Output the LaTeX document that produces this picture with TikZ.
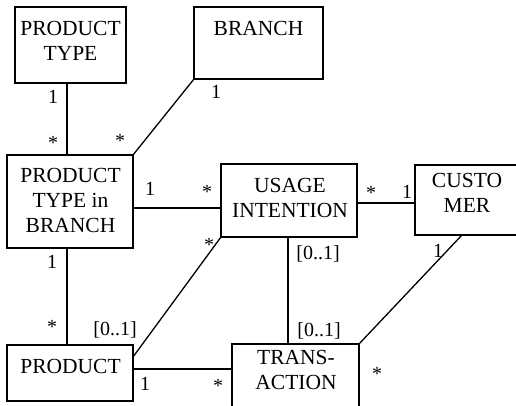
\documentclass[tikz,border=0pt]{standalone}
\usepackage{fontspec}
\setmainfont{Liberation Serif}
\begin{document}
\begin{tikzpicture}[x=1pt,y=-1pt,
  ent/.style={draw,line width=1.5pt,inner sep=0pt,outer sep=0pt,rectangle},
  etxt/.style={inner sep=0pt,align=center,font={\fontsize{21.5}{25}\selectfont}},
  mult/.style={inner sep=0pt,anchor=base,font={\fontsize{20}{24}\selectfont}},
  conn/.style={line width=1.3pt}]
\useasboundingbox (0,0) rectangle (516,406);
% entity boxes
\node[ent,minimum width=111pt,minimum height=76pt] (pt)  at (70.5,45) {};
\node[ent,minimum width=129pt,minimum height=72pt] (br)  at (258.5,43) {};
\node[ent,minimum width=126pt,minimum height=93pt] (ptb) at (70,201.5) {};
\node[ent,minimum width=136pt,minimum height=73pt] (ui)  at (289,200.5) {};
\node[ent,minimum width=105pt,minimum height=70pt] (cu)  at (467.5,200) {};
\node[ent,minimum width=127pt,minimum height=66pt] (tr)  at (295.5,377) {};
\node[ent,minimum width=126pt,minimum height=56pt] (pr)  at (70,373) {};
% entity texts
\node[etxt] (pt-t)  at (70.5,41)  {PRODUCT\\TYPE};
\node[etxt] (br-t)  at (258.5,28) {BRANCH};
\node[etxt] (ptb-t) at (70.5,200) {PRODUCT\\TYPE in\\BRANCH};
\node[etxt] (ui-t)  at (290,198)  {USAGE\\INTENTION};
\node[etxt] (cu-t)  at (467,192.5) {CUSTO\\MER};
\node[etxt] (pr-t)  at (70.5,366) {PRODUCT};
\node[etxt] (tr-t)  at (296,370)  {TRANS-\\ACTION};
% connectors
\draw[conn] ([xshift=-3.5pt]pt.south) -- ([xshift=-3pt]ptb.north);
\draw[conn] (br.south west) -- (ptb.north east);
\draw[conn] ([yshift=-6.5pt]ptb.east) -- ([yshift=-6.5pt]ptb.east -| ui.west);
\draw[conn] ([yshift=-2.5pt]ui.east) -- ([yshift=-2.5pt]ui.east -| cu.west);
\draw[conn] ([xshift=47pt]cu.south west) -- (tr.north east);
\draw[conn] ([xshift=-1pt]ui.south) -- ([xshift=-1pt]ui.south |- tr.north);
\draw[conn] ([yshift=16pt]pr.east) -- (ui.south west);
\draw[conn] ([xshift=-3pt]ptb.south) -- ([xshift=-3pt]pr.north);
\draw[conn] ([yshift=4pt]pr.east) -- ([yshift=4pt]pr.east -| tr.west);
% multiplicities
\node[mult] (m1)  at (53,104)    {1};
\node[mult] (m2)  at (53,149.5)  {*};
\node[mult] (m3)  at (120,147.5) {*};
\node[mult] (m4)  at (216,99)    {1};
\node[mult] (m5)  at (150,195)   {1};
\node[mult] (m6)  at (207,198.5) {*};
\node[mult] (m7)  at (209,251.5) {*};
\node[mult] (m8)  at (52,268)    {1};
\node[mult] (m9)  at (52,333.5)  {*};
\node[mult] (m10) at (115,335)   {[0..1]};
\node[mult] (m11) at (145,390)   {1};
\node[mult] (m12) at (218,392.5) {*};
\node[mult] (m13) at (371,199.5) {*};
\node[mult] (m14) at (407,198)   {1};
\node[mult] (m15) at (318,259)   {[0..1]};
\node[mult] (m16) at (319,336)   {[0..1]};
\node[mult] (m17) at (438,257)   {1};
\node[mult] (m18) at (377,380.5) {*};
\end{tikzpicture}
\end{document}
